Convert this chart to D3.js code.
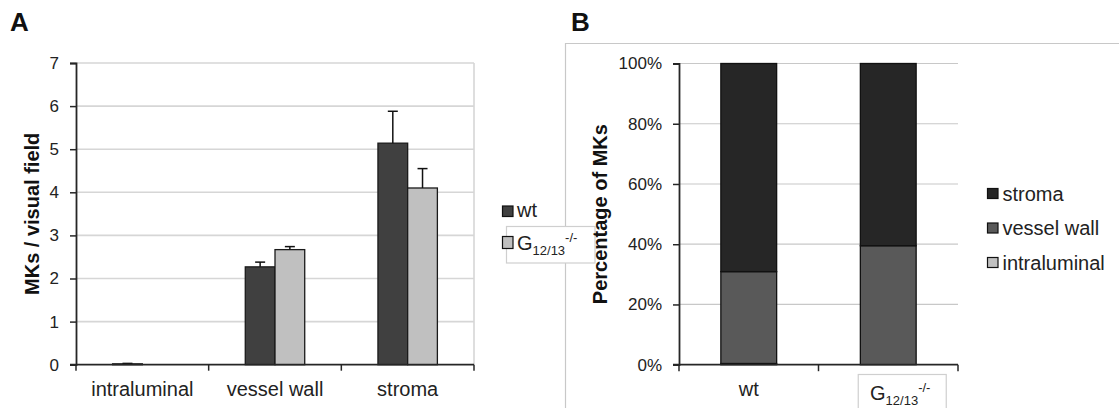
<!DOCTYPE html>
<html><head><meta charset="utf-8">
<script src="https://cdn.jsdelivr.net/npm/d3@7"></script>
<style>
html,body{margin:0;padding:0;background:#fff;}
svg{display:block;font-family:Arial,"Liberation Sans",sans-serif;}
</style></head>
<body>
<svg id="c" width="1119" height="408"></svg>
<script>
// ---- data ----
const catsA = ["intraluminal", "vessel wall", "stroma"];
const seriesA = ["wt", "G12/13-/-"];
const wtA = [0.02, 2.27, 5.14];
const wtErrA = [0.01, 0.11, 0.74];
const gA = [0, 2.67, 4.10];
const gErrA = [0, 0.07, 0.45];
const yTicksA = [0, 1, 2, 3, 4, 5, 6, 7];

const catsB = ["wt", "G12/13-/-"];
const stackKeysB = ["intraluminal", "vessel wall", "stroma"];
const intraB = [0.4, 0];
const vesselB = [30.5, 39.5];
const stromaB = [69.1, 60.5];
const yTicksB = [0, 20, 40, 60, 80, 100];

const colA = {"wt": "#404040", "G12/13-/-": "#c0c0c0"};
const colB = {"intraluminal": "#c0c0c0", "vessel wall": "#595959", "stroma": "#262626"};

const svg = d3.select("#c");

// helper: label with sub/superscript for G12/13-/-
function richLabel(sel, txt, size) {
  if (txt.startsWith("G12/13")) {
    sel.append("tspan").text("G");
    sel.append("tspan").attr("font-size", size * 0.65).attr("dy", 5).text("12/13");
    sel.append("tspan").attr("font-size", size * 0.65).attr("dy", -13).text("-/-");
  } else sel.text(txt);
}

// ---------- Panel frame B & titles ----------
svg.append("text").attr("x", 10).attr("y", 31).attr("font-size", 26).attr("font-weight", "bold").attr("fill", "#111").text("A");
svg.append("text").attr("x", 571).attr("y", 31).attr("font-size", 26).attr("font-weight", "bold").attr("fill", "#111").text("B");
svg.append("path").attr("d", "M565.5,408 V43.5 H1119").attr("fill", "none").attr("stroke", "#c8c8c8").attr("stroke-width", 1.2);

// ---------- Panel A ----------
const A = {l: 76, r: 474, t: 63, b: 364.7};
const yA = d3.scaleLinear().domain([0, 7]).range([A.b, A.t]);
const x0A = d3.scaleBand().domain(catsA).range([A.l, A.r]);
const gw = x0A.bandwidth() * 0.448;
const x1A = d3.scaleBand().domain(seriesA).range([(x0A.bandwidth() - gw) / 2, (x0A.bandwidth() + gw) / 2]);

const gAel = svg.append("g");
gAel.selectAll("line.grid").data(yTicksA.filter(d => d > 0)).join("line")
  .attr("x1", A.l).attr("x2", A.r).attr("y1", d => yA(d)).attr("y2", d => yA(d))
  .attr("stroke", "#d6d6d6").attr("stroke-width", 1.6);
gAel.append("line").attr("x1", A.r).attr("x2", A.r).attr("y1", A.t).attr("y2", A.b)
  .attr("stroke", "#d6d6d6").attr("stroke-width", 1.6);

const dataA = catsA.map((c, i) => ({c, vals: [
  {s: seriesA[0], v: wtA[i], e: wtErrA[i]},
  {s: seriesA[1], v: gA[i], e: gErrA[i]}]}));

const grp = gAel.selectAll("g.cat").data(dataA).join("g").attr("transform", d => `translate(${x0A(d.c)},0)`);
grp.selectAll("rect").data(d => d.vals.filter(v => v.v > 0)).join("rect")
  .attr("x", d => x1A(d.s)).attr("width", x1A.bandwidth())
  .attr("y", d => yA(d.v)).attr("height", d => yA(0) - yA(d.v))
  .attr("fill", d => colA[d.s]).attr("stroke", "#1a1a1a").attr("stroke-width", 1.3);
const eb = grp.selectAll("g.err").data(d => d.vals.filter(v => v.e > 0)).join("g");
eb.append("line").attr("x1", d => x1A(d.s) + x1A.bandwidth() / 2).attr("x2", d => x1A(d.s) + x1A.bandwidth() / 2)
  .attr("y1", d => yA(d.v)).attr("y2", d => yA(d.v + d.e)).attr("stroke", "#111").attr("stroke-width", 1.5);
eb.append("line").attr("x1", d => x1A(d.s) + x1A.bandwidth() / 2 - 5).attr("x2", d => x1A(d.s) + x1A.bandwidth() / 2 + 5)
  .attr("y1", d => yA(d.v + d.e)).attr("y2", d => yA(d.v + d.e)).attr("stroke", "#111").attr("stroke-width", 1.5);

// y axis A
const axA = gAel.append("g").attr("transform", `translate(${A.l},0)`)
  .call(d3.axisLeft(yA).tickValues(yTicksA).tickFormat(d3.format("d")).tickSize(6).tickPadding(11));
axA.select(".domain").attr("stroke", "#262626").attr("stroke-width", 1.8);
axA.selectAll(".tick line").attr("stroke", "#262626").attr("stroke-width", 1.5);
axA.selectAll(".tick text").attr("font-size", 17).attr("fill", "#222").attr("font-family", "Arial, Liberation Sans");
// x axis A
gAel.append("line").attr("x1", A.l - 6).attr("x2", A.r).attr("y1", A.b).attr("y2", A.b).attr("stroke", "#262626").attr("stroke-width", 1.8);
const bA = catsA.map(c => x0A(c)).concat([A.r]);
gAel.selectAll("line.xt").data(bA).join("line").attr("x1", d => d).attr("x2", d => d)
  .attr("y1", A.b).attr("y2", A.b + 6).attr("stroke", "#262626").attr("stroke-width", 1.5);
gAel.selectAll("text.xl").data(catsA).join("text")
  .attr("x", d => x0A(d) + x0A.bandwidth() / 2).attr("y", 396).attr("text-anchor", "middle")
  .attr("font-size", 20).attr("fill", "#222").text(d => d);
svg.append("text").attr("transform", `translate(39,${(A.t + A.b) / 2}) rotate(-90)`).attr("text-anchor", "middle")
  .attr("font-size", 20).attr("font-weight", "bold").attr("fill", "#111").text("MKs / visual field");

// legend A
svg.append("rect").attr("x", 506.5).attr("y", 226.5).attr("width", 88.5).attr("height", 36.5)
  .attr("fill", "#fff").attr("stroke", "#cfcfcf").attr("stroke-width", 1.2);
const legA = svg.append("g");
seriesA.forEach((s, i) => {
  const yy = 206 + i * 30.5;
  legA.append("rect").attr("x", 502.5).attr("y", yy).attr("width", 10.5).attr("height", 10.5 + i * 1.5)
    .attr("fill", colA[s]).attr("stroke", "#111").attr("stroke-width", 1.2);
  const t = legA.append("text").attr("x", 517).attr("y", yy + 11 + i * 2.5).attr("font-size", 20).attr("fill", "#222");
  richLabel(t, s, 20);
});

// ---------- Panel B ----------
const B = {l: 679, r: 958, t: 63.5, b: 364.7};
const yB = d3.scaleLinear().domain([0, 100]).range([B.b, B.t]);
const xB = d3.scaleBand().domain(catsB).range([B.l, B.r]);
const bwB = xB.bandwidth() * 0.40;
const gBel = svg.append("g");
gBel.selectAll("line.grid").data(yTicksB.filter(d => d > 0)).join("line")
  .attr("x1", B.l).attr("x2", B.r).attr("y1", d => yB(d)).attr("y2", d => yB(d))
  .attr("stroke", "#c8c8c8").attr("stroke-width", 1.2);

const tableB = catsB.map((c, i) => ({cat: c, "intraluminal": intraB[i], "vessel wall": vesselB[i], "stroma": stromaB[i]}));
const stacked = d3.stack().keys(stackKeysB)(tableB);
gBel.selectAll("g.layer").data(stacked).join("g").attr("fill", d => colB[d.key])
  .selectAll("rect").data(d => d.filter(p => p[1] - p[0] > 0)).join("rect")
  .attr("x", d => xB(d.data.cat) + (xB.bandwidth() - bwB) / 2).attr("width", bwB)
  .attr("y", d => yB(d[1])).attr("height", d => yB(d[0]) - yB(d[1]))
  .attr("stroke", "#111").attr("stroke-width", 1.3);

const axB = gBel.append("g").attr("transform", `translate(${B.l},0)`)
  .call(d3.axisLeft(yB).tickValues(yTicksB).tickFormat(d => d + "%").tickSize(6).tickPadding(11));
axB.select(".domain").attr("stroke", "#262626").attr("stroke-width", 1.8);
axB.selectAll(".tick line").attr("stroke", "#262626").attr("stroke-width", 1.5);
axB.selectAll(".tick text").attr("font-size", 17).attr("fill", "#222").attr("font-family", "Arial, Liberation Sans");
gBel.append("line").attr("x1", B.l - 6).attr("x2", B.r).attr("y1", B.b).attr("y2", B.b).attr("stroke", "#262626").attr("stroke-width", 1.8);
const bB = catsB.map(c => xB(c)).concat([B.r]);
gBel.selectAll("line.xt").data(bB).join("line").attr("x1", d => d).attr("x2", d => d)
  .attr("y1", B.b).attr("y2", B.b + 6.5).attr("stroke", "#262626").attr("stroke-width", 1.5);
// label box for second category
gBel.append("rect").attr("x", xB(catsB[1]) + xB.bandwidth() / 2 - 30).attr("y", 374.5).attr("width", 88).attr("height", 40)
  .attr("fill", "#fff").attr("stroke", "#cfcfcf").attr("stroke-width", 1.2);
catsB.forEach((c, i) => {
  const t = gBel.append("text").attr("x", xB(c) + xB.bandwidth() / 2 + (i ? 12 : 0)).attr("y", i ? 399.5 : 396)
    .attr("text-anchor", "middle").attr("font-size", 20).attr("fill", "#222");
  richLabel(t, c, 20);
});
svg.append("text").attr("transform", `translate(607,${(B.t + B.b) / 2}) rotate(-90)`).attr("text-anchor", "middle")
  .attr("font-size", 20).attr("font-weight", "bold").attr("fill", "#111").text("Percentage of MKs");

// legend B (top to bottom: stroma, vessel wall, intraluminal)
const legKeys = stackKeysB.slice().reverse();
const legB = svg.append("g");
legKeys.forEach((k, i) => {
  const yy = 188.5 + i * 34.5;
  legB.append("rect").attr("x", 987.5).attr("y", yy).attr("width", 10.5).attr("height", 10)
    .attr("fill", colB[k]).attr("stroke", "#111").attr("stroke-width", 1.2);
  legB.append("text").attr("x", 1002.5).attr("y", yy + 12).attr("font-size", 20).attr("fill", "#222").text(k);
});
</script>
</body></html>
